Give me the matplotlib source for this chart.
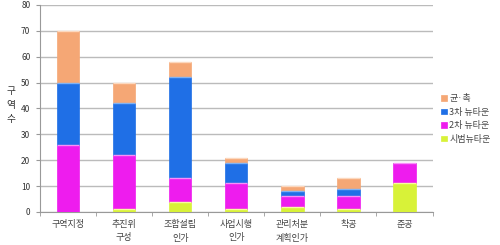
import matplotlib
matplotlib.use("Agg")
import matplotlib.pyplot as plt
import numpy as np

plt.rcParams['font.family'] = ['Noto Sans CJK KR', 'DejaVu Sans']

categories = ['구역지정', '추진위\n구성', '조합설립\n인가', '사업시행\n인가', '관리처분\n계획인가', '착공', '준공']
series_names = ['시범뉴타운', '2차 뉴타운', '3차 뉴타운', '균·촉']
sibeom = [0, 1, 4, 1, 2, 1, 11]
second = [26, 21, 9, 10, 4, 5, 8]
third = [24, 20, 39, 8, 2, 3, 0]
gyunchok = [20, 8, 6, 2, 2, 4, 0]
yticks = [0, 10, 20, 30, 40, 50, 60, 70, 80]

colors = ['#D8F238', '#EE1CEE', '#1F6FE6', '#F5A775']
edge_colors = ['#F8FCA0', '#F890F8', '#7FB2F5', '#FCD8BE']

fig = plt.figure(figsize=(5.0, 2.45), dpi=100)
ax = fig.add_axes([0.08, 0.135, 0.785, 0.845])

x = np.arange(len(categories))
bottom = np.zeros(len(categories))
for vals, c, ec, name in zip([sibeom, second, third, gyunchok], colors, edge_colors, series_names):
    v = np.array(vals, dtype=float)
    ax.bar(x, v, bottom=bottom, width=0.4, color=c, edgecolor=c, linewidth=0.5, label=name, zorder=3)
    # light top highlight
    mask = v > 0
    ax.hlines((bottom + v)[mask], x[mask] - 0.2, x[mask] + 0.2, colors=ec, linewidth=1.0, zorder=4)
    bottom += v

ax.set_xlim(-0.5, len(categories) - 0.5)
ax.set_ylim(0, 80)
ax.set_yticks(yticks)
ax.set_yticklabels([str(t) for t in yticks], fontsize=6, color='#333333')
ax.set_xticks(x)
ax.set_xticklabels(categories, fontsize=6.5, color='#444444', linespacing=1.6)
ax.set_xticks(np.arange(-0.5, len(categories), 1), minor=True)
ax.tick_params(axis='x', which='major', length=0, pad=6)
ax.tick_params(axis='x', which='minor', length=3, color='#999999')
ax.tick_params(axis='y', length=3, color='#999999', pad=4)

ax.grid(axis='y', color='#BBBBBB', linewidth=1.0, zorder=0)
for s in ['top', 'right']:
    ax.spines[s].set_visible(False)
ax.spines['left'].set_color('#999999')
ax.spines['bottom'].set_color('#999999')

fig.text(0.022, 0.57, '구\n역\n수', fontsize=7, ha='center', va='center', linespacing=1.5, color='#333333')

handles, labels = ax.get_legend_handles_labels()
leg = fig.legend(handles[::-1], labels[::-1], loc='center left', bbox_to_anchor=(0.875, 0.515),
                 frameon=False, fontsize=6.5, handlelength=0.6, handleheight=0.6,
                 handletextpad=0.3, labelspacing=0.5, borderaxespad=0)
for t in leg.get_texts():
    t.set_color('#444444')

fig.savefig('out.png', dpi=100)
